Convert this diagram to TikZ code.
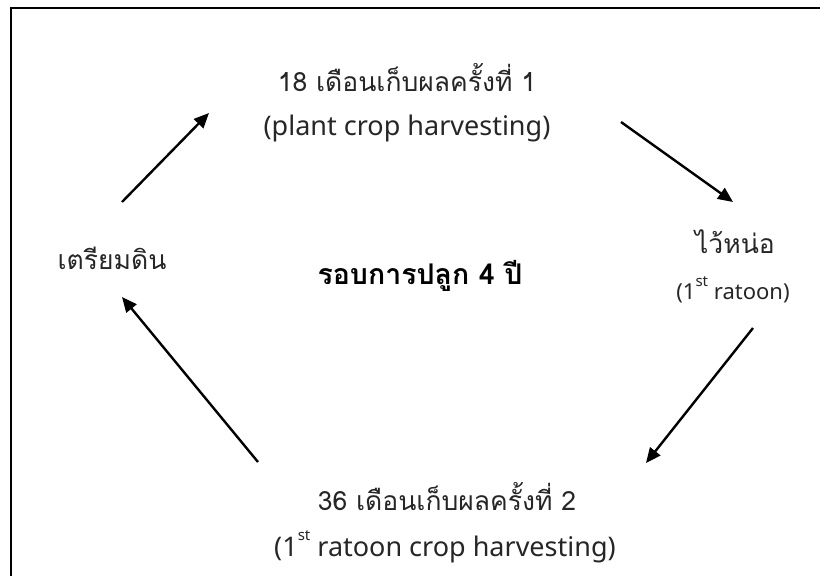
\documentclass[tikz,border=0pt]{standalone}
\usepackage{fontspec}
\setmainfont{Noto Sans}
\newfontfamily\thaifont[Script=Thai]{Loma}
\usetikzlibrary{arrows.meta}
\tikzset{
  lbl/.style={inner sep=0pt, font=\thaifont\fontsize{26.5}{30}\selectfont, text=black!85},
  eng/.style={inner sep=0pt, font=\fontsize{27}{31}\selectfont, text=black!85},
  small/.style={inner sep=0pt, font=\fontsize{22}{26}\selectfont, text=black!85},
  flow/.style={line width=2.4pt, -{Triangle[length=15pt,width=13pt]}},
  frame/.style={line width=2.6pt}
}
\newcommand{\sptxt}[1]{\raisebox{0.6em}{\fontsize{15}{17}\selectfont #1}}
\begin{document}
\begin{tikzpicture}[x=1pt,y=-1pt]
\useasboundingbox (0,0) rectangle (820,576);
\coordinate (fb) at (11,577);
\coordinate (fc) at (11,8);
\coordinate (fr) at (821,8);
\draw[frame] (fb) -- (fc) -- (fr);

\node[lbl] (t1) at (407,78) {18 เดือนเก็บผลครั้งที่ 1};
\node[eng] (t2) at (407,128) {(plant crop harvesting)};
\node[lbl] (r1) at (735,242) {ไว้หน่อ};
\node[small] (r2) at (733,290) {(1\sptxt{st} ratoon)};
\node[lbl] (b1) at (447,497) {36 เดือนเก็บผลครั้งที่ 2};
\node[eng] (b2) at (445,547) {(1\sptxt{st} ratoon crop harvesting)};
\node[lbl] (l1) at (112,258) {เตรียมดิน};
\node[lbl, font=\thaifont\bfseries\fontsize{28.5}{32}\selectfont, text=black] (c) at (420,276) {รอบการปลูก 4 ปี};

\coordinate (a1s) at (122,202); \coordinate (a1e) at (209,113);
\coordinate (a2s) at (621,122); \coordinate (a2e) at (733,202);
\coordinate (a3s) at (753,328); \coordinate (a3e) at (646,463);
\coordinate (a4s) at (258,462); \coordinate (a4e) at (122,297);
\draw[flow] (a1s) -- (a1e);
\draw[flow] (a2s) -- (a2e);
\draw[flow] (a3s) -- (a3e);
\draw[flow] (a4s) -- (a4e);
\end{tikzpicture}
\end{document}
